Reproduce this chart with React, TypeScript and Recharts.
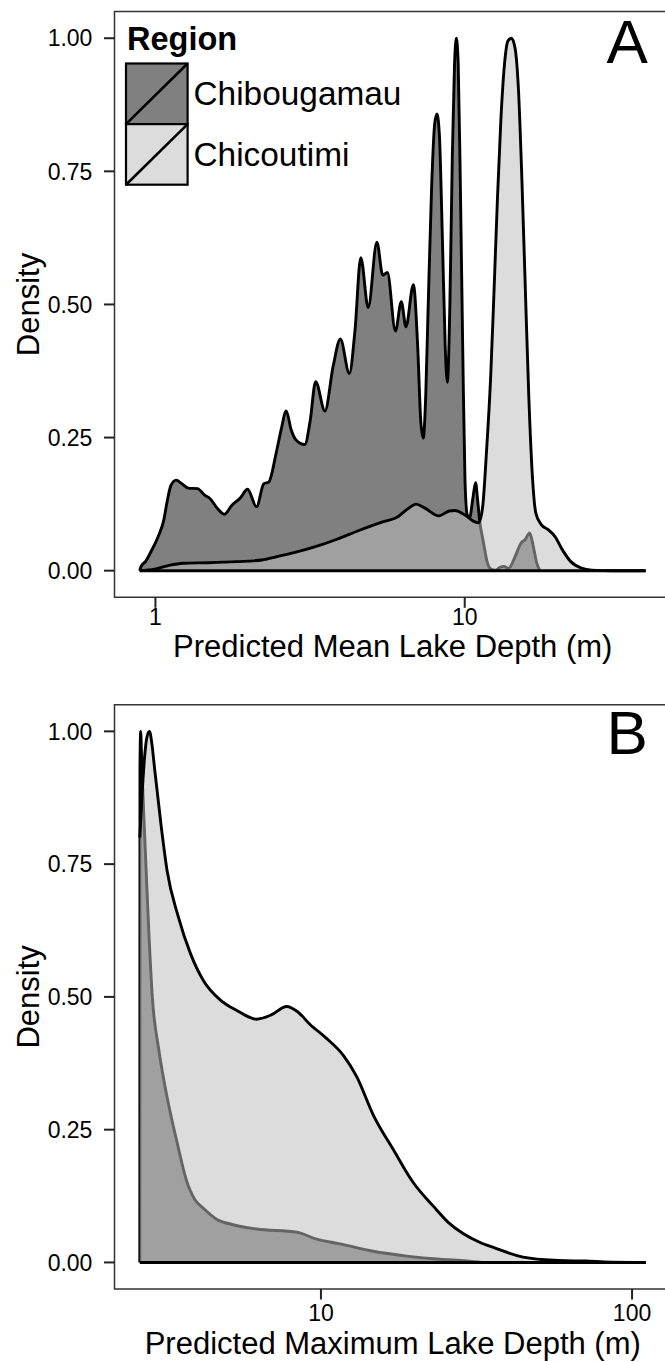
import React from 'react';
import { AreaChart, Area, XAxis, YAxis, ReferenceLine, ReferenceArea } from 'recharts';

type Pt = [number, number];

const regions = ['Chibougamau', 'Chicoutimi'];
const densityTicks = [0, 0.25, 0.5, 0.75, 1];
const meanTicks = [1, 10];
const maxTicks = [10, 100];

// panel A: predicted mean lake depth (m), scaled density
const chibMean: Pt[] = [
  [0.889, 0], [0.899, 0.008], [0.931, 0.018], [0.968, 0.036], [1.021, 0.064], [1.064, 0.095],
  [1.091, 0.13], [1.122, 0.16], [1.167, 0.17], [1.213, 0.164], [1.279, 0.155], [1.368, 0.154],
  [1.442, 0.142], [1.503, 0.135], [1.585, 0.117], [1.671, 0.106], [1.762, 0.122], [1.884, 0.137],
  [1.986, 0.153], [2.123, 0.12], [2.239, 0.163], [2.328, 0.167], [2.455, 0.22], [2.55, 0.265],
  [2.649, 0.3], [2.745, 0.265], [2.844, 0.246], [3.041, 0.237], [3.162, 0.28], [3.296, 0.355],
  [3.532, 0.3], [3.758, 0.385], [3.963, 0.435], [4.236, 0.37], [4.416, 0.45], [4.613, 0.588],
  [4.875, 0.494], [5.2, 0.617], [5.433, 0.555], [5.623, 0.56], [5.97, 0.45], [6.237, 0.505],
  [6.457, 0.458], [6.823, 0.537], [7.047, 0.42], [7.211, 0.28], [7.345, 0.249], [7.482, 0.33],
  [7.621, 0.5], [7.816, 0.72], [7.998, 0.84], [8.128, 0.858], [8.279, 0.82], [8.472, 0.62],
  [8.65, 0.42], [8.79, 0.354], [8.954, 0.5], [9.12, 0.78], [9.268, 0.95], [9.397, 1.0],
  [9.528, 0.95], [9.683, 0.72], [9.863, 0.4], [10.02, 0.17], [10.19, 0.105], [10.38, 0.1],
  [10.62, 0.135], [10.84, 0.165], [11.02, 0.13], [11.17, 0.095], [11.48, 0.055], [11.8, 0.018],
  [12.16, 0.003], [12.59, 0.001], [12.97, 0.006], [13.4, 0.008], [13.84, 0.004], [14.59, 0.028],
  [15.21, 0.052], [15.67, 0.058], [16.22, 0.071], [16.67, 0.045], [17.1, 0.014], [17.5, 0],
];

const chicMean: Pt[] = [
  [0.889, 0], [0.995, 0.003], [1.107, 0.01], [1.23, 0.014], [1.483, 0.015], [1.832, 0.017],
  [2.208, 0.02], [2.455, 0.026], [2.805, 0.034], [3.289, 0.045], [3.864, 0.059], [4.529, 0.075],
  [5.458, 0.092], [6.067, 0.101], [6.577, 0.117], [6.966, 0.125], [7.413, 0.118], [8.241, 0.103],
  [8.913, 0.112], [9.29, 0.113], [10.05, 0.104], [10.74, 0.092], [11.09, 0.09], [11.43, 0.12],
  [11.75, 0.22], [12.13, 0.363], [12.45, 0.531], [12.76, 0.699], [13.09, 0.847], [13.46, 0.954],
  [13.8, 0.995], [14.16, 1.0], [14.55, 0.981], [14.93, 0.9], [15.31, 0.733], [15.7, 0.531],
  [16.11, 0.329], [16.56, 0.175], [16.98, 0.108], [17.66, 0.087], [18.62, 0.077], [19.59, 0.064],
  [20.65, 0.04], [22.03, 0.017], [23.82, 0.005], [25.76, 0.001], [30.13, 0], [38.46, 0],
];

// panel B: predicted maximum lake depth (m), scaled density
const chibMax: Pt[] = [
  [2.617, 0], [2.62, 0.93], [2.634, 1.0], [2.652, 0.95], [2.679, 0.88], [2.71, 0.81],
  [2.742, 0.74], [2.799, 0.62], [2.871, 0.5], [3.013, 0.4], [3.206, 0.31], [3.467, 0.22],
  [3.694, 0.155], [3.936, 0.118], [4.188, 0.102], [4.603, 0.082], [5.224, 0.071], [6.209, 0.063],
  [8.356, 0.057], [9.683, 0.044], [11.51, 0.035], [14.72, 0.021], [18.88, 0.012], [24.15, 0.006],
  [29.44, 0.003], [33.11, 0],
];

const chicMax: Pt[] = [
  [2.617, 0.8], [2.661, 0.88], [2.71, 0.95], [2.761, 0.99], [2.811, 1.0], [2.864, 0.975],
  [2.917, 0.932], [3.059, 0.826], [3.206, 0.736], [3.467, 0.654], [3.811, 0.581], [4.188, 0.531],
  [4.753, 0.494], [5.383, 0.474], [6.209, 0.458], [6.918, 0.466], [7.762, 0.482], [8.414, 0.472],
  [9.226, 0.448], [10.42, 0.422], [11.8, 0.39], [13.03, 0.35], [14.72, 0.278], [17.1, 0.212],
  [19.82, 0.15], [22.96, 0.106], [25.7, 0.075], [28.71, 0.054], [32.36, 0.038], [36.31, 0.027],
  [42.66, 0.013], [52.48, 0.005], [64.57, 0.003], [70.79, 0.003], [81.28, 0.001], [110.7, 0],
];

const toRows = (pts: Pt[]) => pts.map(([x, y]) => ({ x, y }));

const DARK = '#808080';
const LIGHT = '#bdbdbd';
const LIGHT_ALPHA = 0.53;
const LINE_W = 2.9;

function DensityPanel({ chib, chic, xDomain, xTicks, xTitle, height, plotTop, axisHeight, tickGap, titleOffset }: any) {
  const xs = [...chib, ...chic].map((p: Pt) => p[0]);
  const xMin = Math.min(...xs);
  const xMax = Math.max(...xs);
  return (
    <AreaChart width={690} height={height} margin={{ top: plotTop, right: 19, bottom: 0, left: 0 }}>
      <XAxis
        dataKey="x"
        type="number"
        scale="log"
        domain={xDomain}
        allowDataOverflow
        ticks={xTicks}
        interval={0}
        tickFormatter={(v) => String(v)}
        axisLine={false}
        tickLine={{ stroke: '#222', strokeWidth: 2 }}
        tickSize={10.5}
        tickMargin={tickGap}
        height={axisHeight}
        tick={{ fill: '#000', fontSize: 23 }}
        label={{ value: xTitle, position: 'insideBottom', offset: titleOffset, fill: '#000', fontSize: 31 }}
      />
      <YAxis
        type="number"
        domain={[-0.05, 1.05]}
        allowDataOverflow
        ticks={densityTicks}
        interval={0}
        tickFormatter={(v) => v.toFixed(2)}
        width={114.5}
        axisLine={false}
        tickLine={{ stroke: '#222', strokeWidth: 2 }}
        tickSize={10.5}
        tickMargin={11.6}
        tick={{ fill: '#000', fontSize: 23 }}
        label={{ value: 'Density', angle: -90, position: 'insideLeft', offset: 28, fill: '#000', fontSize: 31, style: { textAnchor: 'middle' } }}
      />
      <Area data={toRows(chib)} dataKey="y" name={regions[0]} type="monotone" fill={DARK} fillOpacity={1}
        stroke="#000" strokeWidth={LINE_W} dot={false} activeDot={false} isAnimationActive={false} />
      <Area data={toRows(chic)} dataKey="y" name={regions[1]} type="monotone" fill={LIGHT} fillOpacity={LIGHT_ALPHA}
        stroke="#000" strokeWidth={LINE_W} dot={false} activeDot={false} isAnimationActive={false} />
      <ReferenceLine segment={[{ x: xMin, y: 0 }, { x: xMax, y: 0 }]} stroke="#000" strokeWidth={LINE_W} ifOverflow="visible" />
      <ReferenceArea x1={xDomain[0]} x2={xDomain[1]} y1={-0.05} y2={1.05} fill="none" stroke="#333" strokeWidth={1.5} ifOverflow="visible" />
    </AreaChart>
  );
}

export default function App() {
  const keyFills = [DARK, LIGHT];
  const keyAlpha = [1, LIGHT_ALPHA];
  return (
    <div style={{ position: 'absolute', left: 0, top: 0, width: 665, height: 1362, overflow: 'hidden', background: '#fff', fontFamily: '"Liberation Sans", Arial, sans-serif' }}>
      <div style={{ position: 'absolute', left: 0, top: 0 }}>
        <DensityPanel chib={chibMean} chic={chicMean} xDomain={[0.7373, 46.45]} xTicks={meanTicks}
          xTitle="Predicted Mean Lake Depth (m)" height={680} plotTop={11.6} axisHeight={82.7} tickGap={1} titleOffset={23} />
      </div>
      <div style={{ position: 'absolute', left: 0, top: 680 }}>
        <DensityPanel chib={chibMax} chic={chicMax} xDomain={[2.17, 133.4]} xTicks={maxTicks}
          xTitle="Predicted Maximum Lake Depth (m)" height={682} plotTop={24.8} axisHeight={73} tickGap={5} titleOffset={8} />
      </div>
      <svg width={665} height={1362} style={{ position: 'absolute', left: 0, top: 0, pointerEvents: 'none' }}>
        <text x={127} y={49.5} fontSize={32.5} fontWeight="bold" fill="#000">Region</text>
        {regions.map((r, i) => {
          const y0 = 63.5 + i * 60.6;
          return (
            <g key={r}>
              <rect x={126} y={y0} width={61.6} height={60.6} fill="#fff" />
              <rect x={126} y={y0} width={61.6} height={60.6} fill={keyFills[i]} fillOpacity={keyAlpha[i]} stroke="#000" strokeWidth={2.2} />
              <line x1={126} y1={y0 + 60.6} x2={187.6} y2={y0} stroke="#000" strokeWidth={2.6} />
              <text x={193.5} y={105 + i * 60.6} fontSize={33.4} fill="#000">{r}</text>
            </g>
          );
        })}
        <text x={606.5} y={62.7} fontSize={62} fill="#000">A</text>
        <text x={606.5} y={754} fontSize={62} fill="#000">B</text>
      </svg>
    </div>
  );
}
